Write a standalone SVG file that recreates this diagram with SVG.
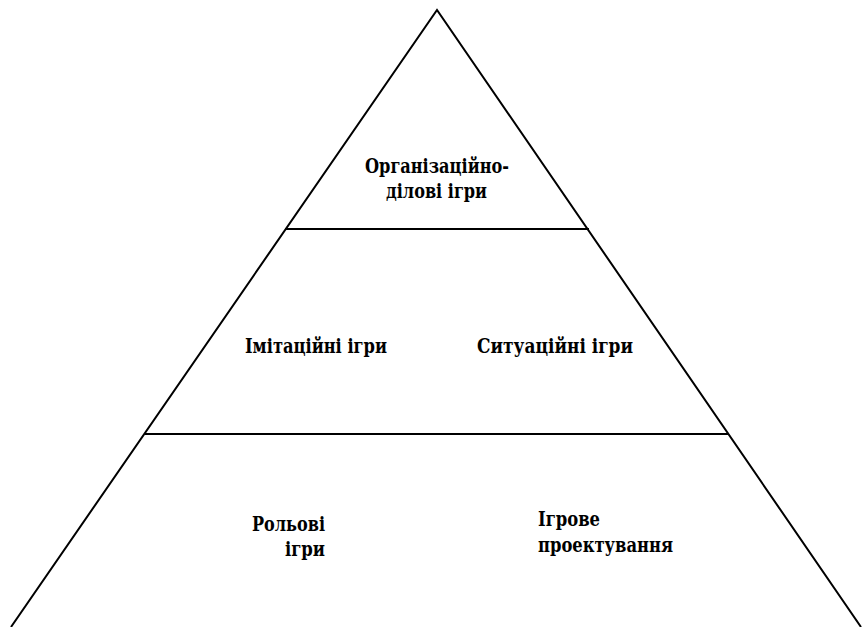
<svg xmlns="http://www.w3.org/2000/svg" width="863" height="627" viewBox="0 0 863 627">
<style>
.ln{stroke:#000;stroke-width:2;fill:none}
text{font-family:'DejaVu Serif','Liberation Serif',serif;font-weight:700;font-size:20px;fill:#000}
</style>
<rect width="863" height="627" fill="#fff"/>
<g id="connectors">
<polyline class="ln" points="11,627 437,10 861,627"/>
<line class="ln" x1="285" y1="229" x2="589" y2="229"/>
<line class="ln" x1="145" y1="434" x2="728" y2="434"/>
</g>
<g id="node-top">
<text x="365" y="173" textLength="144" lengthAdjust="spacingAndGlyphs">Організаційно-</text>
<text x="386" y="198" textLength="101" lengthAdjust="spacingAndGlyphs">ділові ігри</text>
</g>
<g id="node-imitation">
<text x="245" y="353" textLength="142" lengthAdjust="spacingAndGlyphs">Імітаційні ігри</text>
</g>
<g id="node-situation">
<text x="477" y="353" textLength="156" lengthAdjust="spacingAndGlyphs">Ситуаційні ігри</text>
</g>
<g id="node-role">
<text x="252" y="531" textLength="73" lengthAdjust="spacingAndGlyphs">Рольові</text>
<text x="285" y="556" textLength="40" lengthAdjust="spacingAndGlyphs">ігри</text>
</g>
<g id="node-design">
<text x="538" y="526" textLength="62" lengthAdjust="spacingAndGlyphs">Ігрове</text>
<text x="538" y="552" textLength="135" lengthAdjust="spacingAndGlyphs">проектування</text>
</g>
</svg>
